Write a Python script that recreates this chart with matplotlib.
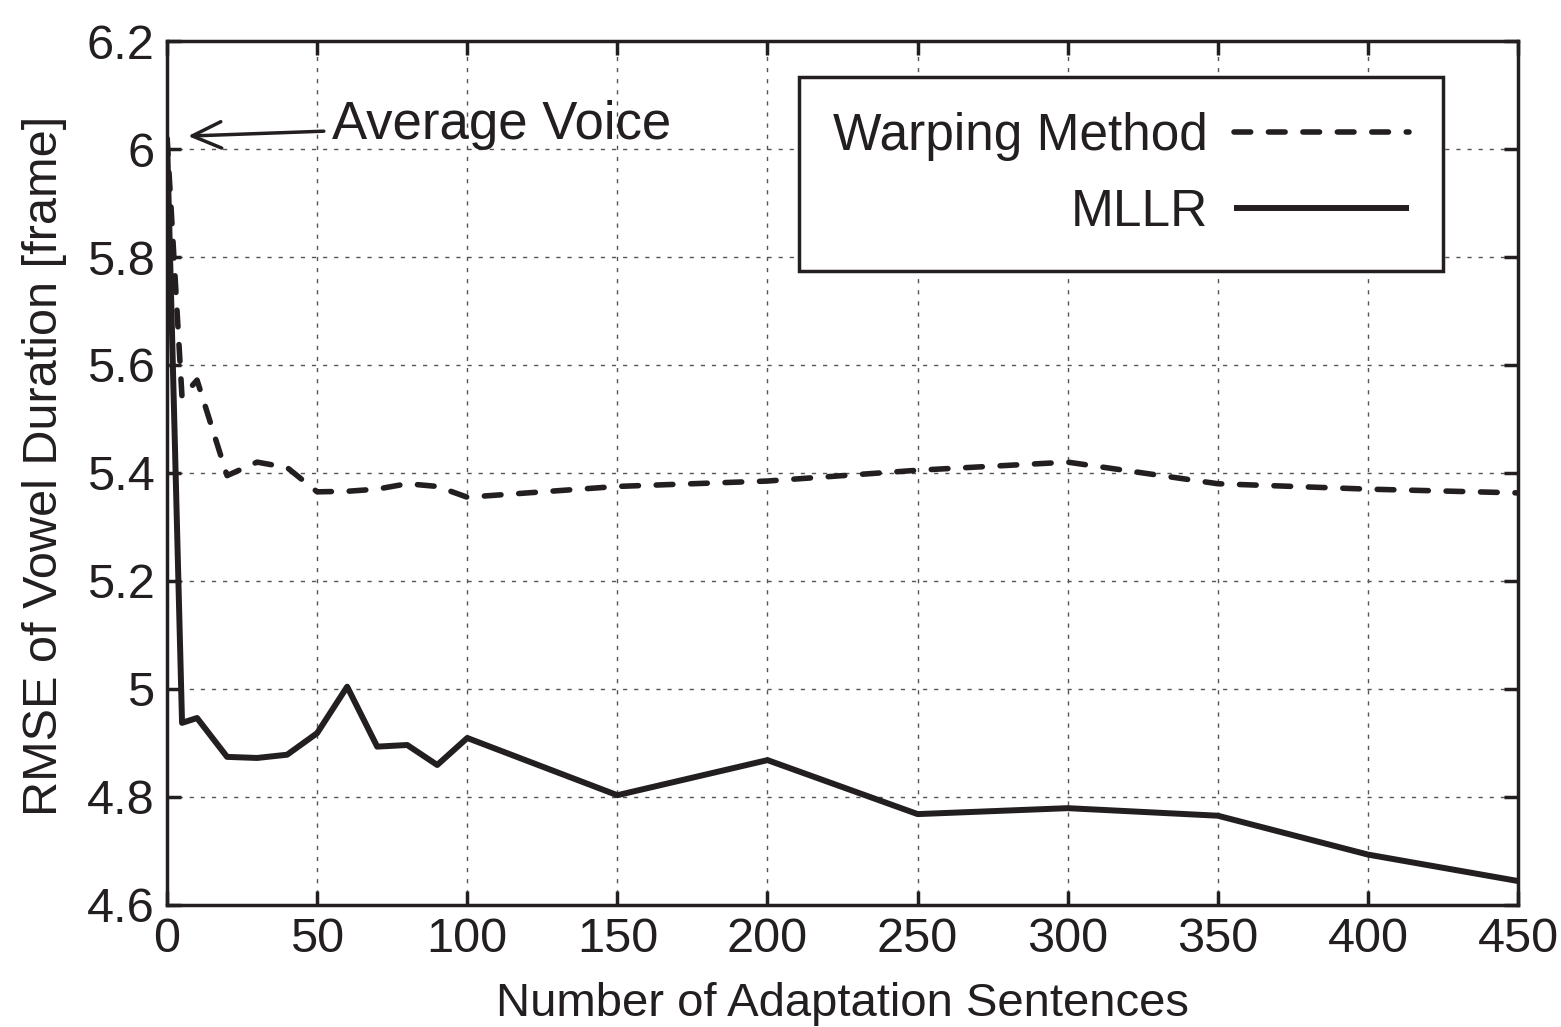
import matplotlib.pyplot as plt
from matplotlib.ticker import FuncFormatter

plt.rcParams["font.family"] = ["Liberation Sans", "DejaVu Sans"]

sentences = [0, 5, 10, 20, 30, 40, 50, 60, 70, 80, 90, 100, 150, 200, 250, 300, 350, 400, 450]
warping = [6.02, 5.54, 5.572, 5.395, 5.42, 5.41, 5.365, 5.366, 5.37, 5.38, 5.375, 5.355,
           5.375, 5.385, 5.405, 5.42, 5.38, 5.37, 5.363]
mllr = [6.02, 4.937, 4.946, 4.874, 4.872, 4.878, 4.918, 5.004, 4.893, 4.896, 4.859, 4.909,
        4.803, 4.868, 4.768, 4.779, 4.765, 4.693, 4.644]

ink = "#231f20"

fig = plt.figure(figsize=(15.61, 10.27), dpi=100)
ax = fig.add_axes([0.107, 0.119, 0.8655, 0.841])

ax.plot(sentences, warping, color=ink, lw=4.0, ls=(0, (3.0, 3.2)),
        dash_capstyle="round", label="Warping Method")
ax.plot(sentences, mllr, color=ink, lw=4.3, solid_capstyle="butt", label="MLLR")

ax.annotate("Average Voice", xy=(7, 6.024), xytext=(55, 6.045),
            fontsize=38, va="center", ha="left", color=ink,
            arrowprops=dict(arrowstyle="->,head_length=0.55,head_width=0.25",
                            color=ink, lw=2.5, shrinkA=4, shrinkB=0))

ax.set_xlim(0, 450)
ax.set_ylim(4.6, 6.2)
ax.set_xticks(range(0, 451, 50))
ax.set_yticks([4.6, 4.8, 5.0, 5.2, 5.4, 5.6, 5.8, 6.0, 6.2])
ax.yaxis.set_major_formatter(FuncFormatter(lambda v, p: f"{v:g}"))
ax.tick_params(direction="in", length=10, width=2.5, labelsize=35,
               top=True, right=True, colors=ink, pad=9)
ax.grid(True, ls=(0, (3, 5)), color="#555555", lw=1.0)
for s in ax.spines.values():
    s.set_linewidth(2.5)
    s.set_color(ink)

ax.set_xlabel("Number of Adaptation Sentences", fontsize=34, color=ink, labelpad=14)
ax.set_ylabel("RMSE of Vowel Duration [frame]", fontsize=35, color=ink)
ax.yaxis.set_label_coords(-0.074, 0.508)

leg = ax.legend(loc="upper right", bbox_to_anchor=(0.9445, 0.958), fontsize=37,
                markerfirst=False, handlelength=3.4, handletextpad=0.5,
                borderpad=0.67, labelspacing=0.53, fancybox=False, framealpha=1,
                borderaxespad=0)
leg.get_frame().set_edgecolor(ink)
leg.get_frame().set_linewidth(2.5)
for t in leg.get_texts():
    t.set_ha("right")
    t.set_color(ink)

fig.savefig("out.png", dpi=100)
